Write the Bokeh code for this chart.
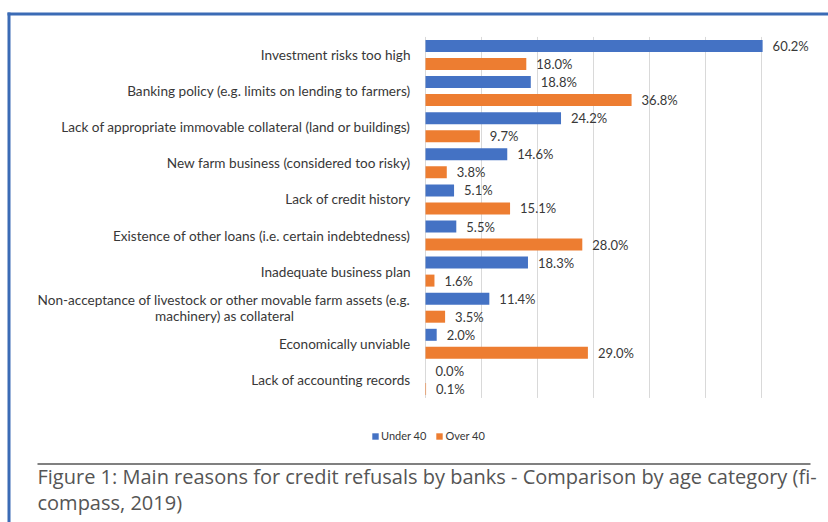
import numpy as np
from bokeh.plotting import figure
from bokeh.models import Range1d, ColumnDataSource
from bokeh.core.properties import value
from bokeh.transform import dodge
from bokeh.embed import file_html
from bokeh.resources import INLINE

# ---------------- data ----------------
categories = [
    "Investment risks too high",
    "Banking policy (e.g. limits on lending to farmers)",
    "Lack of appropriate immovable collateral (land or buildings)",
    "New farm business (considered too risky)",
    "Lack of credit history",
    "Existence of other loans (i.e. certain indebtedness)",
    "Inadequate business plan",
    "Non-acceptance of livestock or other movable farm assets (e.g.\nmachinery) as collateral",
    "Economically unviable",
    "Lack of accounting records",
]
under_40 = [60.2, 18.8, 24.2, 14.6, 5.1, 5.5, 18.3, 11.4, 2.0, 0.0]
over_40 = [18.0, 36.8, 9.7, 3.8, 15.1, 28.0, 1.6, 3.5, 29.0, 0.1]
series_names = ["Under 40", "Over 40"]
grid_ticks = [0, 10, 20, 30, 40, 50, 60]
caption_lines = [
    "Figure 1: Main reasons for credit refusals by banks - Comparison by age category (fi-",
    "compass, 2019)",
]

# ---------------- layout ----------------
W, H = 828, 522
X0 = 425.0          # pixel column of 0 %
PX_PER_PCT = 5.6    # pixels per percentage point
Y0 = 54.5           # pixel row of first category centre
PX_PER_CAT = 36.1   # pixels per category slot


def xd(px):
    return (px - X0) / PX_PER_PCT


def yd(py):
    return (py - Y0) / PX_PER_CAT


BLUE = "#4472C4"
ORANGE = "#ED7D31"
TXT = "#383838"
FONT = value("Lato")
LAB_SIZE = "13.6px"

p = figure(width=W, height=H,
           x_range=Range1d(xd(0), xd(W)), y_range=Range1d(yd(H), yd(0)),
           output_backend="svg", toolbar_location=None,
           x_axis_location=None, y_axis_location=None,
           min_border=0, outline_line_color=None,
           background_fill_color="white", border_fill_color="white")
p.xgrid.visible = False
p.ygrid.visible = False

n = len(categories)
idx = list(range(n))

# gridlines
p.segment(x0=grid_ticks, y0=[-0.5] * len(grid_ticks), x1=grid_ticks, y1=[n - 0.5] * len(grid_ticks),
          line_color="#d9d9d9", line_width=1)

src = ColumnDataSource(dict(
    y=idx,
    under=under_40,
    over=over_40,
    under_lbl=[f"{v:.1f}%" for v in under_40],
    over_lbl=[f"{v:.1f}%" for v in over_40],
))

off = 9.0 / PX_PER_CAT
bh = 12.0 / PX_PER_CAT
p.hbar(y=dodge("y", -off), left=0, right="under", height=bh, source=src,
       fill_color=BLUE, line_color=None, legend_label=series_names[0])
p.hbar(y=dodge("y", off), left=0, right="over", height=bh, source=src,
       fill_color=ORANGE, line_color=None, legend_label=series_names[1])

p.text(x="under", y=dodge("y", -off), text="under_lbl", source=src, x_offset=10,
       text_font=FONT, text_font_size="13px", text_color=TXT,
       text_align="left", text_baseline="middle")
p.text(x="over", y=dodge("y", off), text="over_lbl", source=src, x_offset=10,
       text_font=FONT, text_font_size="13px", text_color=TXT,
       text_align="left", text_baseline="middle")

# category labels
lab_x = xd(410)
single_y, single_t = [], []
for i, c in enumerate(categories):
    if "\n" in c:
        l1, l2 = c.split("\n", 1)
        p.text(x=[lab_x], y=[i], text=[l1], y_offset=-8,
               text_font=FONT, text_font_size=LAB_SIZE, text_color=TXT,
               text_align="right", text_baseline="middle")
        p.text(x=[xd(224)], y=[i], text=[l2], y_offset=8,
               text_font=FONT, text_font_size=LAB_SIZE, text_color=TXT,
               text_align="center", text_baseline="middle")
    else:
        single_y.append(i)
        single_t.append(c)
p.text(x=[lab_x] * len(single_y), y=single_y, text=single_t,
       text_font=FONT, text_font_size=LAB_SIZE, text_color=TXT,
       text_align="right", text_baseline="middle")

# legend
lg = p.legend[0]
lg.orientation = "horizontal"
lg.location = (371, 522 - 442)
lg.border_line_color = None
lg.background_fill_alpha = 0
lg.padding = 0
lg.margin = 0
lg.spacing = 9
lg.glyph_width = 8
lg.glyph_height = 8
lg.label_standoff = 2
lg.label_height = 12
lg.label_width = 10
lg.label_text_font = "Lato"
lg.label_text_font_size = "11px"
lg.label_text_color = TXT

# frame lines & caption
p.segment(x0=[xd(7)], y0=[yd(13.5)], x1=[xd(W)], y1=[yd(13.5)], line_color="#3b6bb5", line_width=3)
p.segment(x0=[xd(8.5)], y0=[yd(12)], x1=[xd(8.5)], y1=[yd(H)], line_color="#3b6bb5", line_width=3)
p.segment(x0=[xd(37)], y0=[yd(463.5)], x1=[xd(810)], y1=[yd(463.5)], line_color="#808080", line_width=2)

p.text(x=[xd(37)] * 2, y=[yd(476), yd(502)], text=caption_lines,
       text_font=value("Open Sans"), text_font_size="20px", text_color="#555555",
       text_align="left", text_baseline="middle")

open("out.html", "w").write(file_html(p, INLINE))
